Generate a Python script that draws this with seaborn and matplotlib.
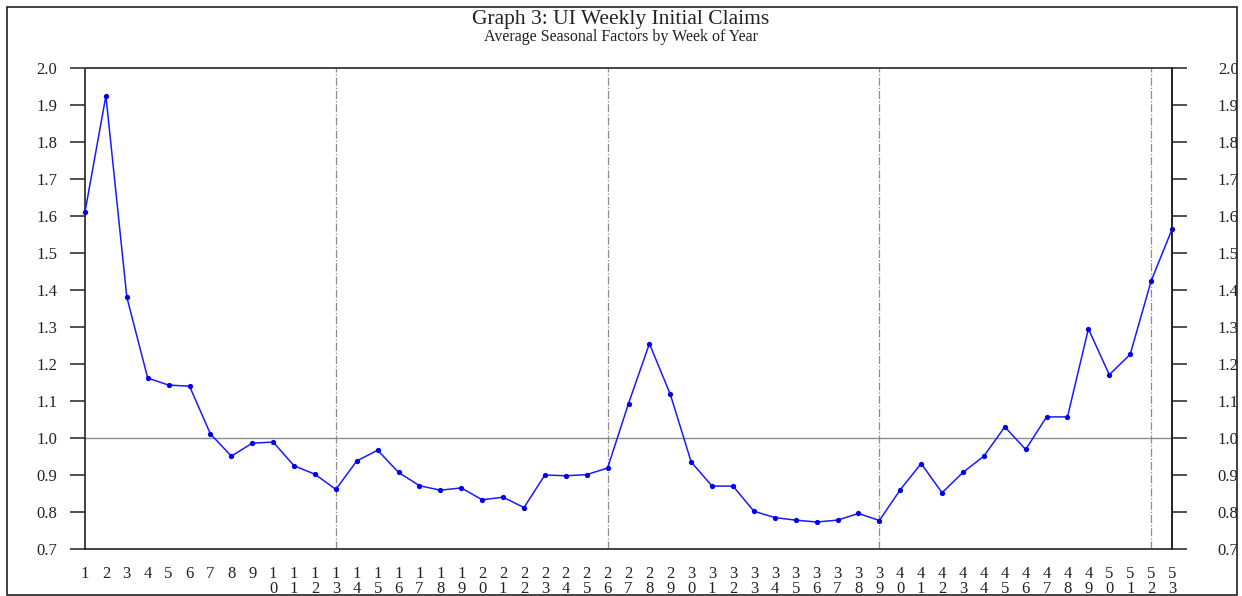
import numpy as np
import pandas as pd
import matplotlib
matplotlib.use('Agg')
import matplotlib.pyplot as plt
from matplotlib.patches import Rectangle
import seaborn as sns

# week of year and average seasonal factor
weeks = list(range(1, 54))
factors = [1.611, 1.925, 1.381, 1.162, 1.143, 1.140, 1.011, 0.951, 0.986, 0.989,
           0.925, 0.902, 0.861, 0.938, 0.967, 0.907, 0.871, 0.859, 0.865, 0.833,
           0.840, 0.812, 0.900, 0.898, 0.901, 0.919, 1.093, 1.255, 1.118, 0.935,
           0.870, 0.870, 0.802, 0.785, 0.778, 0.773, 0.778, 0.796, 0.777, 0.860,
           0.931, 0.852, 0.907, 0.951, 1.030, 0.969, 1.057, 1.057, 1.295, 1.171,
           1.226, 1.424, 1.564]
quarter_weeks = [13, 26, 39, 52]
y_ticks = [0.7, 0.8, 0.9, 1.0, 1.1, 1.2, 1.3, 1.4, 1.5, 1.6, 1.7, 1.8, 1.9, 2.0]
week_labels = ['\n'.join(str(w)) for w in weeks]

df = pd.DataFrame({'week': weeks, 'factor': factors})

sns.set_style('white')
plt.rcParams['font.family'] = ['Liberation Serif', 'DejaVu Serif']

fig = plt.figure(figsize=(12.42, 5.96), dpi=100)
ax = fig.add_axes([85 / 1242, 1 - 549 / 596, (1172 - 85) / 1242, (549 - 68) / 596])

# reference lines
ax.axhline(1.0, color='#8c8c8c', lw=1.0, zorder=1)
for w in quarter_weeks:
    ax.axvline(w, color='#8c8c8c', lw=0.9, ls='-.', zorder=1)

sns.lineplot(data=df, x='week', y='factor', ax=ax, color='#1a1aff', lw=1.1,
             marker='o', markersize=3.8, markeredgewidth=0, markerfacecolor='#0000ee',
             zorder=3, clip_on=False)

ax.set_xlim(1, 53)
ax.set_ylim(0.7, 2.0)
ax.set_xlabel('')
ax.set_ylabel('')
ax.set_xticks(weeks)
ax.set_xticklabels(week_labels, fontsize=12, linespacing=0.95)
ax.set_yticks(y_ticks)
ax.set_yticklabels([f'{v:.1f}' for v in y_ticks], fontsize=12, color='#333333')
ax.tick_params(axis='x', direction='out', length=5, width=1.1, pad=7, colors='#222222')
ax.tick_params(axis='y', direction='out', length=11, width=1.1, pad=9, colors='#222222')
for side in ['left', 'bottom', 'right']:
    ax.spines[side].set_color('#222222')
    ax.spines[side].set_linewidth(1.2)
ax.spines['top'].set_color('#444444')
ax.spines['top'].set_linewidth(1.4)

ax2 = ax.twinx()
ax2.set_ylim(0.7, 2.0)
ax2.set_yticks(y_ticks)
ax2.set_yticklabels([f'{v:.1f}' for v in y_ticks], fontsize=12, color='#333333')
ax2.tick_params(axis='y', direction='out', length=11, width=1.1, pad=22, colors='#222222')
for side in ['left', 'bottom', 'top']:
    ax2.spines[side].set_visible(False)
ax2.spines['right'].set_color('#222222')
ax2.spines['right'].set_linewidth(1.2)

fig.text(0.5, 1 - 24 / 596, 'Graph 3: UI Weekly Initial Claims', ha='center', va='baseline',
         fontsize=15.5, color='#222222')
fig.text(0.5, 1 - 41 / 596, 'Average Seasonal Factors by Week of Year', ha='center', va='baseline',
         fontsize=11.5, color='#222222')

# cut off the right labels at the outer frame, then draw the frame
fig.patches.append(Rectangle((1237 / 1242, 0), 1, 1, transform=fig.transFigure,
                             facecolor='white', edgecolor='none', zorder=20))
fig.patches.append(Rectangle((7 / 1242, 1 / 596), (1237 - 7) / 1242, (595 - 7) / 596,
                             transform=fig.transFigure, facecolor='none',
                             edgecolor='#222222', lw=1.2, zorder=21))

fig.savefig('out.png', dpi=100)
